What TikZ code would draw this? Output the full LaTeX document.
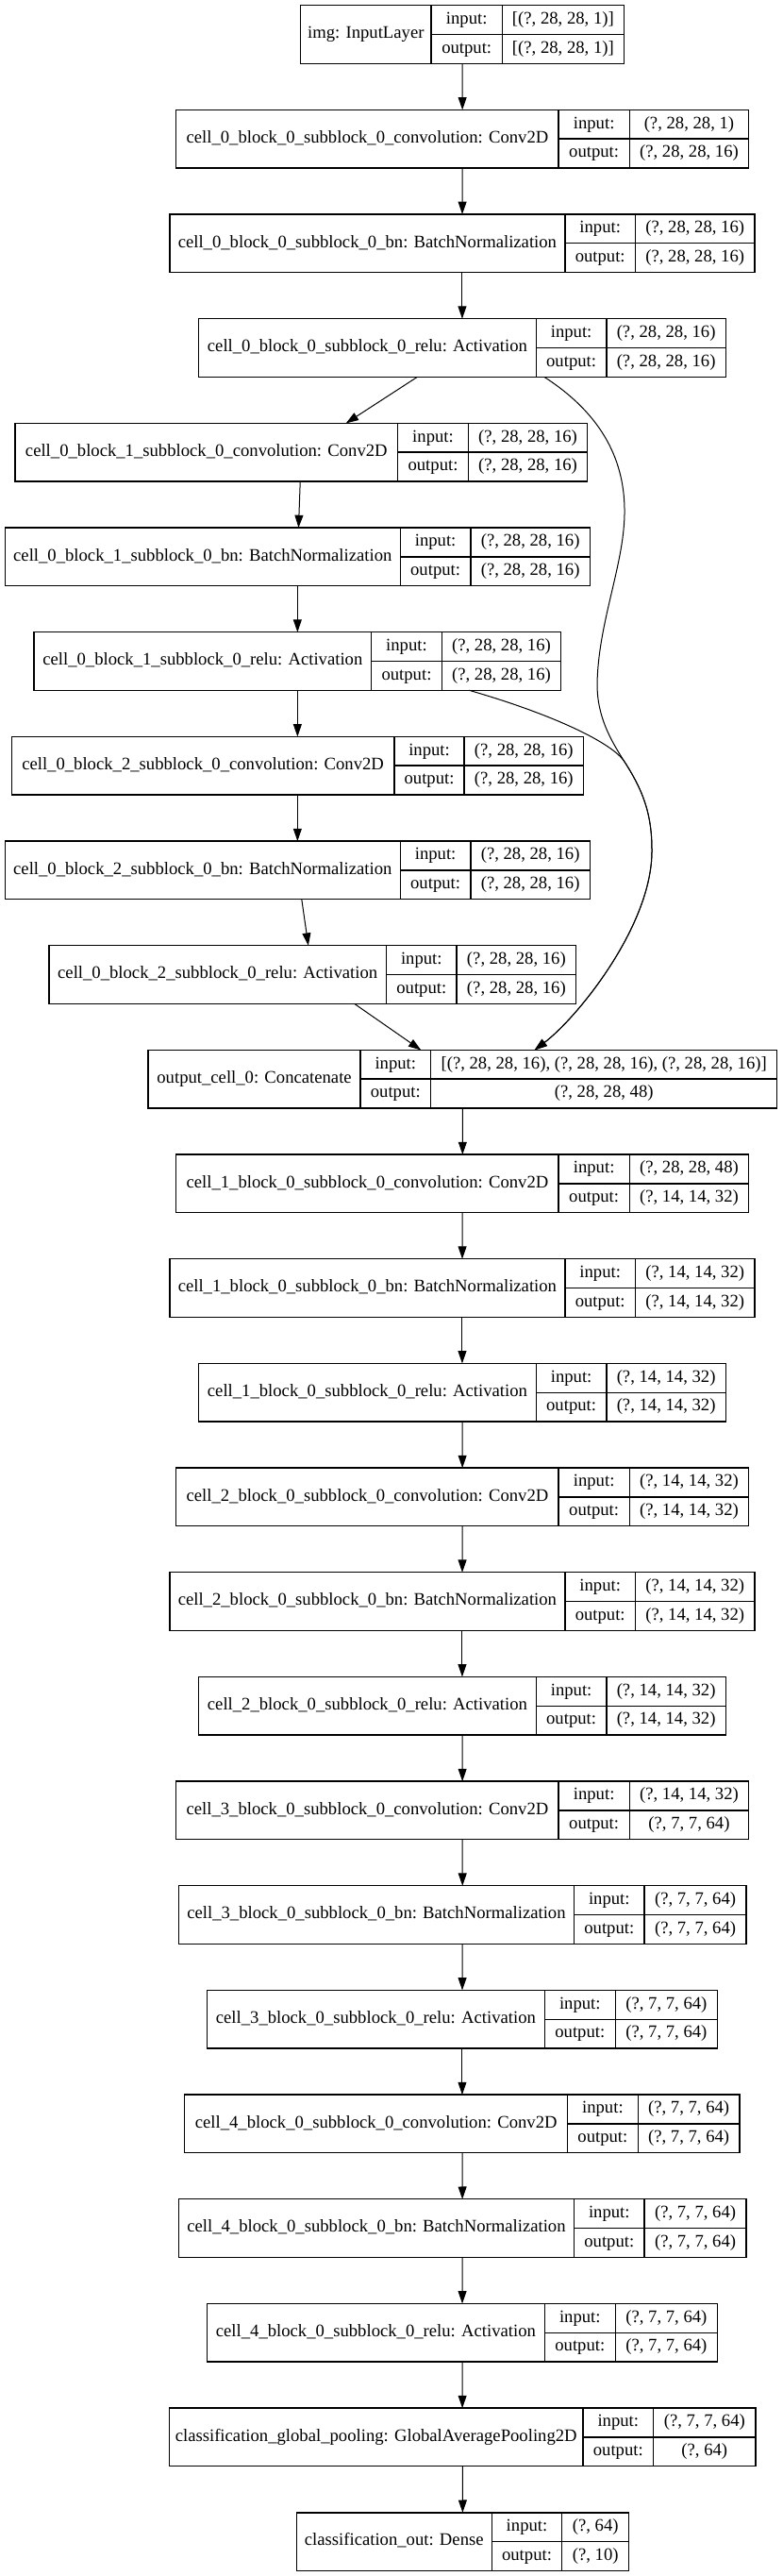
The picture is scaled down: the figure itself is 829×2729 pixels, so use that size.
\documentclass[tikz,border=0pt]{standalone}
\usepackage{fontspec}
\setmainfont{Liberation Serif}
\usepackage{tikz}
\usetikzlibrary{arrows.meta, calc}

\tikzset{
  layerbox/.style={draw, line width=1pt, inner sep=0pt, outer sep=0pt, minimum height=46.125pt},
  cellline/.style={line width=1pt},
  celltext/.style={font=\fontsize{14pt}{16pt}\selectfont, inner sep=0pt, text height=9.5pt, text depth=3pt},
  flow/.style={line width=0.75pt, -{Triangle[length=10pt, width=6.7pt]}}
}

% one keras layer: name, top, x label, x input, x value, x right, label, input shape, output shape
\newcommand{\layer}[9]{%
  \node[layerbox, minimum width={(#6-#3)*0.75pt}] (#1) at ({(#3+#6)/2},{#2+30.75}) {};
  \draw[cellline] (#4,#2) -- (#4,{#2+61.5});
  \draw[cellline] (#5,#2) -- (#5,{#2+61.5});
  \draw[cellline] (#4,{#2+30.75}) -- (#6,{#2+30.75});
  \node[celltext] at ({(#3+#4)/2},{#2+30.75}) {#7};
  \node[celltext] at ({(#4+#5)/2},{#2+15.4}) {input:};
  \node[celltext] at ({(#5+#6)/2},{#2+15.4}) {#8};
  \node[celltext] at ({(#4+#5)/2},{#2+46.1}) {output:};
  \node[celltext] at ({(#5+#6)/2},{#2+46.1}) {#9};
}

\begin{document}
\begin{tikzpicture}[x=0.75pt, y=-0.75pt]
  \fill[white] (0,0) rectangle (829,2729);
  \useasboundingbox (0,0) rectangle (829,2729);

  \layer{img}{5.7}{318.5}{457.1}{532.3}{661.4}{img: InputLayer}{[(?, 28, 28, 1)]}{[(?, 28, 28, 1)]}
  \layer{conv0}{116.4}{186.8}{592.1}{667.2}{793.7}{cell\_0\_block\_0\_subblock\_0\_convolution: Conv2D}{(?, 28, 28, 1)}{(?, 28, 28, 16)}
  \layer{bn0}{227.0}{179.9}{598.9}{673.5}{800.0}{cell\_0\_block\_0\_subblock\_0\_bn: BatchNormalization}{(?, 28, 28, 16)}{(?, 28, 28, 16)}
  \layer{relu0}{337.7}{210.6}{568.3}{642.9}{769.3}{cell\_0\_block\_0\_subblock\_0\_relu: Activation}{(?, 28, 28, 16)}{(?, 28, 28, 16)}
  \layer{bconva}{448.4}{15.9}{421.7}{496.3}{622.8}{cell\_0\_block\_1\_subblock\_0\_convolution: Conv2D}{(?, 28, 28, 16)}{(?, 28, 28, 16)}
  \layer{bbna}{559.1}{5.3}{424.3}{498.9}{625.4}{cell\_0\_block\_1\_subblock\_0\_bn: BatchNormalization}{(?, 28, 28, 16)}{(?, 28, 28, 16)}
  \layer{brelua}{669.7}{36.0}{393.7}{468.3}{594.7}{cell\_0\_block\_1\_subblock\_0\_relu: Activation}{(?, 28, 28, 16)}{(?, 28, 28, 16)}
  \layer{bconvb}{780.4}{12.2}{418.0}{492.1}{618.5}{cell\_0\_block\_2\_subblock\_0\_convolution: Conv2D}{(?, 28, 28, 16)}{(?, 28, 28, 16)}
  \layer{bbnb}{891.1}{5.3}{424.3}{498.9}{625.4}{cell\_0\_block\_2\_subblock\_0\_bn: BatchNormalization}{(?, 28, 28, 16)}{(?, 28, 28, 16)}
  \layer{brelub}{1001.7}{51.9}{409.5}{484.1}{610.6}{cell\_0\_block\_2\_subblock\_0\_relu: Activation}{(?, 28, 28, 16)}{(?, 28, 28, 16)}
  \layer{concat}{1112.4}{157.1}{382.0}{456.6}{823.8}{output\_cell\_0: Concatenate}{[(?, 28, 28, 16), (?, 28, 28, 16), (?, 28, 28, 16)]}{(?, 28, 28, 48)}
  \layer{conva}{1223.1}{186.8}{592.1}{667.2}{793.7}{cell\_1\_block\_0\_subblock\_0\_convolution: Conv2D}{(?, 28, 28, 48)}{(?, 14, 14, 32)}
  \layer{bna}{1333.7}{179.9}{598.9}{673.5}{800.0}{cell\_1\_block\_0\_subblock\_0\_bn: BatchNormalization}{(?, 14, 14, 32)}{(?, 14, 14, 32)}
  \layer{relua}{1444.4}{210.6}{568.3}{642.9}{769.3}{cell\_1\_block\_0\_subblock\_0\_relu: Activation}{(?, 14, 14, 32)}{(?, 14, 14, 32)}
  \layer{convb}{1555.1}{186.8}{592.1}{667.2}{793.7}{cell\_2\_block\_0\_subblock\_0\_convolution: Conv2D}{(?, 14, 14, 32)}{(?, 14, 14, 32)}
  \layer{bnb}{1665.8}{179.9}{598.9}{673.5}{800.0}{cell\_2\_block\_0\_subblock\_0\_bn: BatchNormalization}{(?, 14, 14, 32)}{(?, 14, 14, 32)}
  \layer{relub}{1776.4}{210.6}{568.3}{642.9}{769.3}{cell\_2\_block\_0\_subblock\_0\_relu: Activation}{(?, 14, 14, 32)}{(?, 14, 14, 32)}
  \layer{convc}{1887.1}{186.8}{592.1}{667.2}{793.7}{cell\_3\_block\_0\_subblock\_0\_convolution: Conv2D}{(?, 14, 14, 32)}{(?, 7, 7, 64)}
  \layer{bnc}{1997.8}{189.4}{608.5}{683.1}{791.0}{cell\_3\_block\_0\_subblock\_0\_bn: BatchNormalization}{(?, 7, 7, 64)}{(?, 7, 7, 64)}
  \layer{reluc}{2108.4}{219.6}{577.2}{652.4}{760.3}{cell\_3\_block\_0\_subblock\_0\_relu: Activation}{(?, 7, 7, 64)}{(?, 7, 7, 64)}
  \layer{convd}{2219.1}{195.8}{601.6}{676.2}{784.1}{cell\_4\_block\_0\_subblock\_0\_convolution: Conv2D}{(?, 7, 7, 64)}{(?, 7, 7, 64)}
  \layer{bnd}{2329.8}{189.4}{608.5}{683.1}{791.0}{cell\_4\_block\_0\_subblock\_0\_bn: BatchNormalization}{(?, 7, 7, 64)}{(?, 7, 7, 64)}
  \layer{relud}{2440.4}{219.6}{577.2}{652.4}{760.3}{cell\_4\_block\_0\_subblock\_0\_relu: Activation}{(?, 7, 7, 64)}{(?, 7, 7, 64)}
  \layer{pool}{2551.1}{179.4}{618.0}{692.6}{801.0}{classification\_global\_pooling: GlobalAveragePooling2D}{(?, 7, 7, 64)}{(?, 64)}
  \layer{dense}{2661.8}{314.3}{521.2}{595.8}{666.7}{classification\_out: Dense}{(?, 64)}{(?, 10)}

  % cell 0
  \draw[flow] (img) -- (conv0);
  \draw[flow] (conv0) -- (bn0);
  \draw[flow] (bn0) -- (relu0);
  \draw[flow] (relu0) -- (bconva);
  \draw[flow] (bconva) -- (bbna);
  \draw[flow] (bbna) -- (brelua);
  \draw[flow] (brelua) -- (bconvb);
  \draw[flow] (bconvb) -- (bbnb);
  \draw[flow] (bbnb) -- (brelub);
  \draw[flow] (brelub) -- (concat);

  % skip connections into the concatenation
  \coordinate (merge) at (662,807);
  \draw[flow] ($(relu0.south)+(86.7,0)$) .. controls (640,440) and (663,490) .. (662,545)
    .. controls (661,600) and (634,660) .. (633,725)
    .. controls (633,760) and (648,785) .. (merge)
    .. controls (680,835) and (691,860) .. (691,900)
    .. controls (692,980) and (612,1078) .. ($(concat.north)+(76.2,0)$);
  \draw[flow] ($(brelua.south)+(181.6,0)$) .. controls (590,758) and (650,788) .. (merge)
    .. controls (680,835) and (691,860) .. (691,900)
    .. controls (692,980) and (612,1078) .. ($(concat.north)+(76.2,0)$);

  % cells 1 to 4 and classifier
  \draw[flow] (concat) -- (conva);
  \draw[flow] (conva) -- (bna);
  \draw[flow] (bna) -- (relua);
  \draw[flow] (relua) -- (convb);
  \draw[flow] (convb) -- (bnb);
  \draw[flow] (bnb) -- (relub);
  \draw[flow] (relub) -- (convc);
  \draw[flow] (convc) -- (bnc);
  \draw[flow] (bnc) -- (reluc);
  \draw[flow] (reluc) -- (convd);
  \draw[flow] (convd) -- (bnd);
  \draw[flow] (bnd) -- (relud);
  \draw[flow] (relud) -- (pool);
  \draw[flow] (pool) -- (dense);
\end{tikzpicture}
\end{document}
